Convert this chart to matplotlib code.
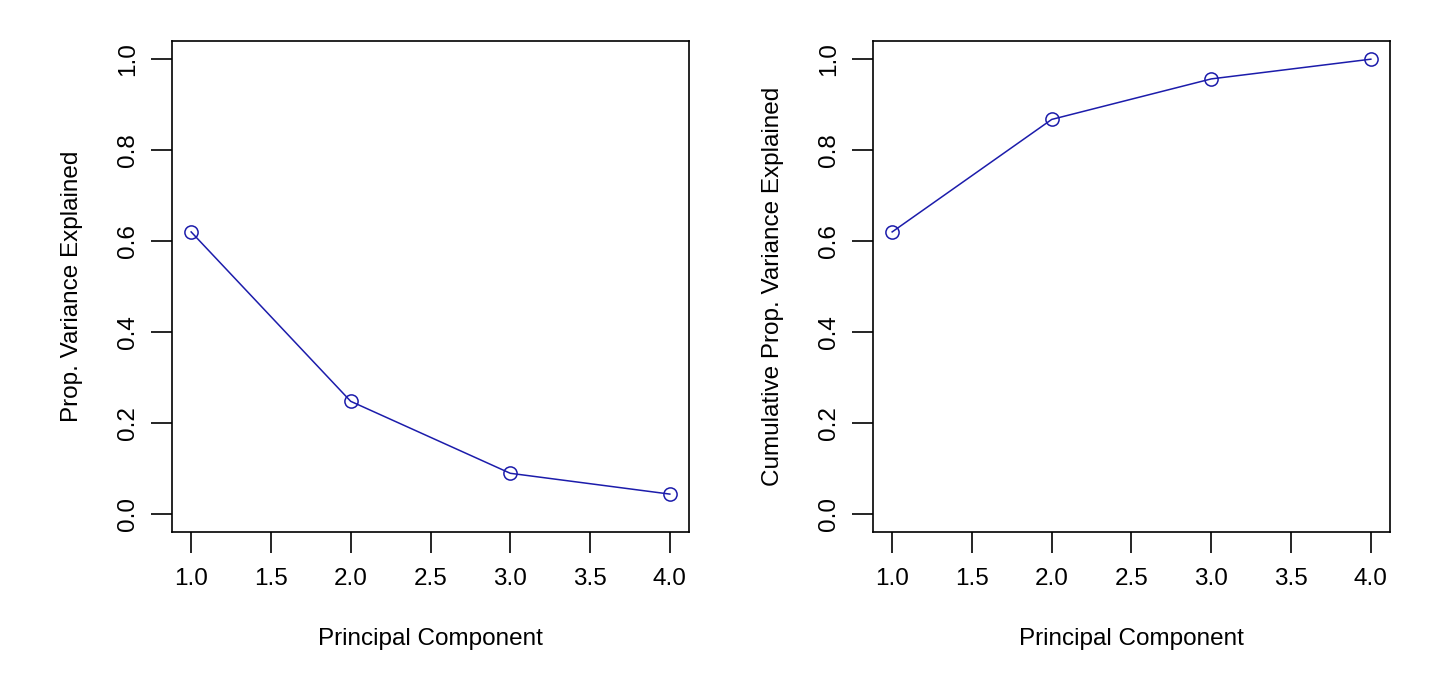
import numpy as np
import matplotlib.pyplot as plt

plt.rcParams['font.family'] = ['Liberation Sans', 'DejaVu Sans']

componentes = [1, 2, 3, 4]
pve = [0.6200604, 0.2474413, 0.0891408, 0.0433575]
pveAcumulada = [0.6200604, 0.8675017, 0.9566425, 1.0]
xTicks = [1.0, 1.5, 2.0, 2.5, 3.0, 3.5, 4.0]
yTicks = [0.0, 0.2, 0.4, 0.6, 0.8, 1.0]

fig = plt.figure(figsize=(14.48, 6.89), dpi=100)
ax1 = fig.add_axes([172/1448, 157/689, 517/1448, 491/689])
ax2 = fig.add_axes([873/1448, 157/689, 517/1448, 491/689])

colorLinea = '#1c1cab'


def graficar(ax, valores, etiquetaY):
    ax.plot(componentes, valores, color=colorLinea, linewidth=1.1,
            marker='o', markersize=9.5, markerfacecolor='none',
            markeredgecolor=colorLinea, markeredgewidth=1.1)
    ax.set_xlim(0.88, 4.12)
    ax.set_ylim(-0.04, 1.04)
    ax.set_xticks(xTicks)
    ax.set_xticklabels(['%.1f' % t for t in xTicks])
    ax.set_yticks(yTicks)
    ax.set_yticklabels(['%.1f' % t for t in yTicks], rotation=90, va='center')
    ax.tick_params(length=15, width=1.2, labelsize=17.5)
    ax.tick_params(axis='x', pad=11)
    ax.tick_params(axis='y', pad=9)
    for s in ax.spines.values():
        s.set_linewidth(1.2)
    ax.set_xlabel('Principal Component', fontsize=17.5, labelpad=27)
    ax.set_ylabel(etiquetaY, fontsize=17.5, labelpad=24)


graficar(ax1, pve, 'Prop. Variance Explained')
graficar(ax2, pveAcumulada, 'Cumulative Prop. Variance Explained')

fig.savefig('out.png', dpi=100)
